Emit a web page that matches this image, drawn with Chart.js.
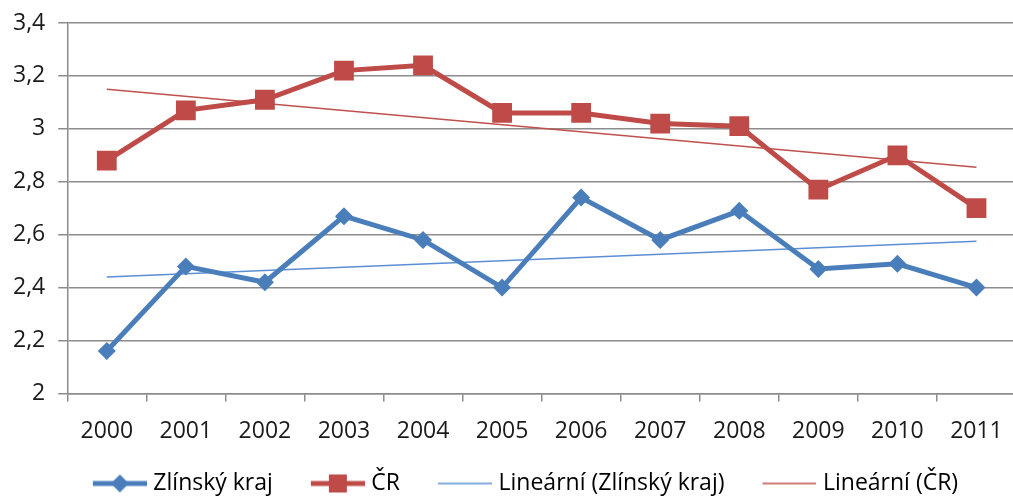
<!DOCTYPE html>
<html>
<head>
<meta charset="utf-8">
<script src="https://cdn.jsdelivr.net/npm/chart.js@4/dist/chart.umd.min.js"></script>
<style>
  html, body { margin: 0; padding: 0; background: #fff; overflow: hidden; }
  #wrap { width: 1030px; height: 505px; }
</style>
</head>
<body>
<div id="wrap"><canvas id="chart"></canvas></div>
<script>
// Values
const years = ['2000', '2001', '2002', '2003', '2004', '2005', '2006', '2007', '2008', '2009', '2010', '2011'];
const zlinsky = [2.16, 2.48, 2.42, 2.67, 2.58, 2.40, 2.74, 2.58, 2.69, 2.47, 2.49, 2.40];
const cr = [2.88, 3.07, 3.11, 3.22, 3.24, 3.06, 3.06, 3.02, 3.01, 2.77, 2.90, 2.70];
// trend line ends (first and last year)
const trendZlinsky = [2.44, 2.575];
const trendCr = [3.15, 2.855];

const blue = '#4A7EBB';
const red = '#BE4B48';
const trendBlue = '#5B8ED4';
const trendRed = '#C0504D';

Chart.defaults.font.family = '"Open Sans", sans-serif';
Chart.defaults.font.size = 23;
Chart.defaults.color = '#1a1a1a';

// trend data: only the two ends, the gap is spanned
function trendData(ends) {
    return years.map((y, i) => i === 0 ? ends[0] : (i === years.length - 1 ? ends[1] : null));
}

// Excel-like legend keys: a line with the marker in the middle.
// Left part of the image is empty, it acts as spacing between items.
const KEY_W = 86;
function legendIcon(color, width, marker) {
    const c = document.createElement('canvas');
    c.width = KEY_W;
    c.height = 22;
    const ctx = c.getContext('2d');
    ctx.strokeStyle = color;
    ctx.fillStyle = color;
    ctx.lineWidth = width;
    ctx.beginPath();
    ctx.moveTo(KEY_W - 54, 11);
    ctx.lineTo(KEY_W, 11);
    ctx.stroke();
    const cx = KEY_W - 27;
    if (marker === 'diamond') {
        ctx.beginPath();
        ctx.moveTo(cx, 2);
        ctx.lineTo(cx + 9, 11);
        ctx.lineTo(cx, 20);
        ctx.lineTo(cx - 9, 11);
        ctx.closePath();
        ctx.fill();
    } else if (marker === 'square') {
        ctx.fillRect(cx - 9, 2, 18, 18);
    }
    return c;
}

const icons = [
    legendIcon(blue, 5, 'diamond'),
    legendIcon(red, 5, 'square'),
    legendIcon(trendBlue, 1.5),
    legendIcon(trendRed, 1.5),
];

const gridColor = '#8c8c8c';

new Chart(document.getElementById('chart'), {
    type: 'line',
    data: {
        labels: years,
        datasets: [
            {
                label: 'Zlínský kraj',
                data: zlinsky,
                borderColor: blue,
                backgroundColor: blue,
                borderWidth: 5,
                pointStyle: 'rectRot',
                pointRadius: 9,
                pointBorderWidth: 0,
                tension: 0,
                order: 1,
            },
            {
                label: 'ČR',
                data: cr,
                borderColor: red,
                backgroundColor: red,
                borderWidth: 5,
                pointStyle: 'rect',
                pointRadius: 14,
                pointBorderWidth: 0,
                tension: 0,
                order: 2,
            },
            {
                label: 'Lineární (Zlínský kraj)',
                data: trendData(trendZlinsky),
                borderColor: trendBlue,
                borderWidth: 1.5,
                pointRadius: 0,
                spanGaps: true,
                order: 3,
            },
            {
                label: 'Lineární (ČR)',
                data: trendData(trendCr),
                borderColor: trendRed,
                borderWidth: 1.5,
                pointRadius: 0,
                spanGaps: true,
                order: 4,
            },
        ]
    },
    options: {
        responsive: true,
        maintainAspectRatio: false,
        animation: false,
        layout: {
            padding: { left: 0, right: 6, top: 23, bottom: 0 }
        },
        plugins: {
            tooltip: { enabled: false },
            legend: {
                position: 'bottom',
                labels: {
                    usePointStyle: true,
                    pointStyleWidth: KEY_W - 10,
                    padding: 11,
                    color: '#1a1a1a',
                    generateLabels: chart => chart.data.datasets.map((ds, i) => ({
                        text: ds.label,
                        fillStyle: ds.borderColor,
                        strokeStyle: ds.borderColor,
                        lineWidth: 0,
                        pointStyle: icons[i],
                        datasetIndex: i,
                        hidden: false,
                    })),
                }
            }
        },
        scales: {
            x: {
                offset: true,
                grid: {
                    offset: true,
                    drawOnChartArea: false,
                    drawTicks: true,
                    tickLength: 8,
                    color: gridColor,
                    lineWidth: 1.5,
                },
                border: { color: gridColor, width: 1.5 },
                ticks: { padding: 16, maxRotation: 0, autoSkip: false },
            },
            y: {
                min: 2,
                max: 3.4,
                // top label overflow is covered by the layout padding
                afterFit: scale => { scale.paddingTop = 0; },
                grid: {
                    color: gridColor,
                    lineWidth: 1.5,
                    tickLength: 9,
                },
                border: { color: gridColor, width: 1.5 },
                ticks: {
                    stepSize: 0.2,
                    padding: 13,
                    callback: v => Number(v.toFixed(1)).toString().replace('.', ','),
                },
            }
        }
    }
});
</script>
</body>
</html>
